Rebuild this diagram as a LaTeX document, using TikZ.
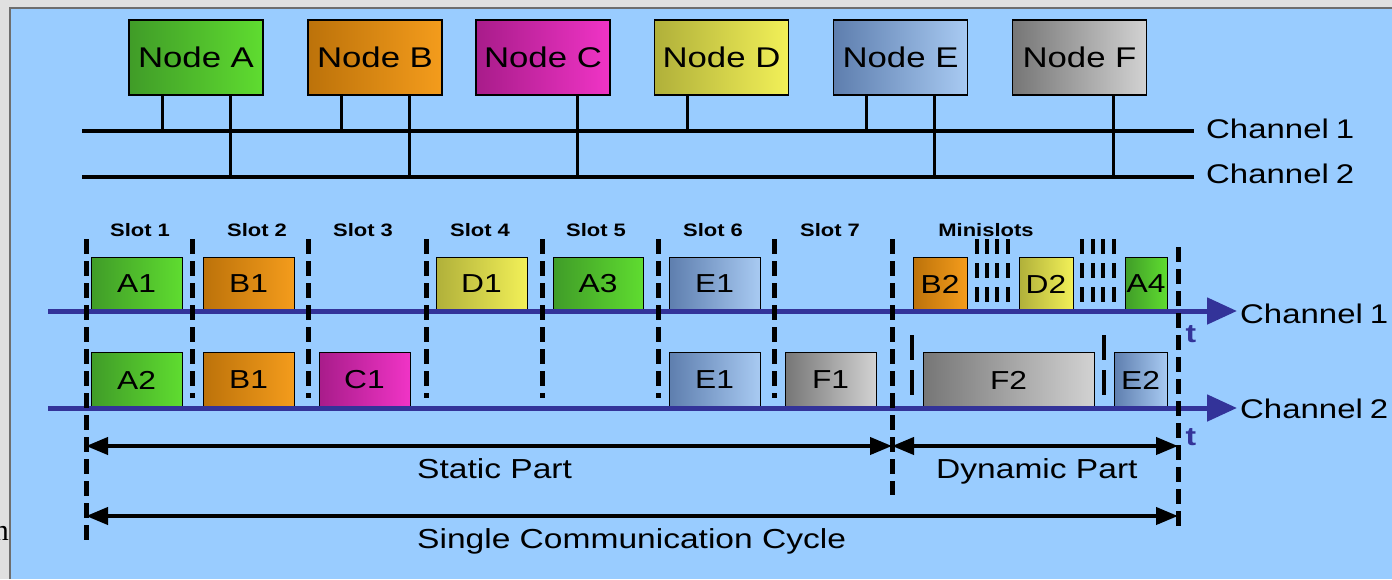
\documentclass[tikz,border=0pt]{standalone}
\usepackage{fontspec}
\newfontfamily\lab[FakeStretch=1.22]{Liberation Sans}
\newfontfamily\serifn{Liberation Serif}
\usetikzlibrary{arrows.meta}

\definecolor{bg}{HTML}{99CCFF}
\definecolor{outer}{HTML}{E0E0E0}
\definecolor{outerline}{HTML}{6E6E6E}
\definecolor{axisblue}{HTML}{333399}
\definecolor{greenD}{HTML}{409C28}
\definecolor{greenL}{HTML}{5FDC30}
\definecolor{orangeD}{HTML}{BC720A}
\definecolor{orangeL}{HTML}{F49C1C}
\definecolor{magD}{HTML}{A81C8A}
\definecolor{magL}{HTML}{F034C6}
\definecolor{yelD}{HTML}{B0B03A}
\definecolor{yelL}{HTML}{F2F058}
\definecolor{bluD}{HTML}{5E7EAE}
\definecolor{bluL}{HTML}{A8CAF2}
\definecolor{gryD}{HTML}{767676}
\definecolor{gryL}{HTML}{D2D2D2}

\tikzset{
  topnode/.style={draw=black, line width=1.2pt, minimum width=134pt, minimum height=75pt,
    inner sep=0pt, font=\lab\fontsize{28.5}{34}\selectfont},
  frame/.style={draw=black, line width=1pt, inner sep=0pt, font=\lab\fontsize{26}{31}\selectfont},
  row1/.style={frame, minimum height=54pt},
  row2/.style={frame, minimum height=56pt},
  greenbox/.style={left color=greenD, right color=greenL},
  orangebox/.style={left color=orangeD, right color=orangeL},
  magbox/.style={left color=magD, right color=magL},
  yelbox/.style={left color=yelD, right color=yelL},
  blubox/.style={left color=bluD, right color=bluL},
  grybox/.style={left color=gryD, right color=gryL},
  bus/.style={line width=4pt, black},
  stub/.style={line width=3pt, black},
  chaxis/.style={line width=5pt, draw=axisblue, -{Triangle[length=30pt,width=26pt]}},
  slotline/.style={line width=5pt, dash pattern=on 15pt off 7pt},
  minline/.style={line width=4pt, dash pattern=on 14.5pt off 9.5pt},
  dynline/.style={line width=4pt, dash pattern=on 25pt off 10pt},
  span/.style={line width=4pt, {Triangle[length=22pt,width=17pt]}-{Triangle[length=22pt,width=17pt]}},
  chlab/.style={font=\lab\fontsize{27}{32}\selectfont, anchor=base west, inner sep=0pt},
  slotlab/.style={font=\lab\bfseries\fontsize{18}{22}\selectfont, anchor=base, inner sep=0pt},
  partlab/.style={font=\lab\fontsize{27.5}{33}\selectfont, anchor=base west, inner sep=0pt},
  tlab/.style={font=\lab\bfseries\fontsize{26}{30}\selectfont, text=axisblue, anchor=base, inner sep=0pt}
}

\begin{document}
\begin{tikzpicture}[x=1pt,y=-1pt]
\useasboundingbox (0,0) rectangle (1392,579);
% window frame and canvas
\fill[outer] (0,0) rectangle (1392,579);
\fill[bg] (10,8) rectangle (1392,579);
\draw[outerline, line width=1.5pt] (10,579) -- (10,8) -- (1392,8);
\node[font=\serifn\fontsize{30}{36}\selectfont, anchor=base east, inner sep=0pt] (cut) at (9,540) {n};

% ---------- bus topology ----------
\node[topnode, greenbox]  (nA) at (196,57.5)   {Node A};
\node[topnode, orangebox] (nB) at (375,57.5)   {Node B};
\node[topnode, magbox]    (nC) at (543,57.5)   {Node C};
\node[topnode, yelbox]    (nD) at (721.5,57.5) {Node D};
\node[topnode, blubox]    (nE) at (900.5,57.5) {Node E};
\node[topnode, grybox]    (nF) at (1079.5,57.5){Node F};

\coordinate (bus1w) at (82,131);
\coordinate (bus1e) at (1194,131);
\coordinate (bus2w) at (82,177);
\coordinate (bus2e) at (1194,177);
\draw[bus] (bus1w) -- (bus1e);
\draw[bus] (bus2w) -- (bus2e);

% stubs to channel 1
\foreach \n in {nA,nB,nD,nE}
  \draw[stub] ([xshift=-34pt]\n.south) -- ([xshift=-34pt]\n.south |- bus1w);
% stubs to channel 2
\foreach \n in {nA,nB,nC,nE,nF}
  \draw[stub] ([xshift=34pt]\n.south) -- ([xshift=34pt]\n.south |- bus2w);

\node[chlab] (busl1) at (1206,138) {Channel\hspace{7pt}1};
\node[chlab] (busl2) at (1206,183) {Channel\hspace{7pt}2};

% ---------- frames, channel 1 ----------
\node[row1, greenbox,  minimum width=91pt] (a1) at (136.5,284) {A1};
\node[row1, orangebox, minimum width=91pt] (b1) at (248.5,284) {B1};
\node[row1, yelbox,    minimum width=91pt] (d1) at (481.5,284) {D1};
\node[row1, greenbox,  minimum width=90pt] (a3) at (598,284)   {A3};
\node[row1, blubox,    minimum width=91pt] (e1) at (714.5,284) {E1};
\node[row1, orangebox, minimum width=54pt] (b2) at (940,284)   {B2};
\node[row1, yelbox,    minimum width=54pt] (d2) at (1046,284)  {D2};
\node[row1, greenbox,  minimum width=42pt] (a4) at (1146,284)  {A4};

% ---------- frames, channel 2 ----------
\node[row2, greenbox,  minimum width=91pt]  (a2)  at (136.5,380)  {A2};
\node[row2, orangebox, minimum width=91pt]  (b1b) at (248.5,380)  {B1};
\node[row2, magbox,    minimum width=91pt]  (c1)  at (364.5,380)  {C1};
\node[row2, blubox,    minimum width=91pt]  (e1b) at (714.5,380)  {E1};
\node[row2, grybox,    minimum width=91pt]  (f1)  at (830.5,380)  {F1};
\node[row2, grybox,    minimum width=171pt] (f2)  at (1008.5,380) {F2};
\node[row2, blubox,    minimum width=53pt]  (e2)  at (1140.5,380) {E2};

% ---------- time axes ----------
\coordinate (ax1s) at (48,311);
\coordinate (ax1e) at (1237,311);
\coordinate (ax2s) at (48,408);
\coordinate (ax2e) at (1237,408);
\draw[chaxis] (ax1s) -- (ax1e);
\draw[chaxis] (ax2s) -- (ax2e);
\node[chlab] (axl1) at (1240,323) {Channel\hspace{7pt}1};
\node[chlab] (axl2) at (1240,418) {Channel\hspace{7pt}2};
\node[tlab] (t1) at (1191,342) {t};
\node[tlab] (t2) at (1191,445) {t};

% ---------- slot boundaries ----------
\coordinate (s0t) at (86,239);   \coordinate (s0b) at (86,540);
\draw[slotline] (s0t) -- (s0b);
\foreach \x [count=\i] in {192,308,426,542,658,774}{
  \coordinate (s\i t) at (\x,239);
  \coordinate (s\i b) at (\x,398);
  \draw[slotline] (s\i t) -- (s\i b);
}
\coordinate (s7t) at (892,239);  \coordinate (s7b) at (892,495);
\draw[slotline] (s7t) -- (s7b);
\coordinate (s8t) at (1178,247); \coordinate (s8b) at (1178,527);
\draw[slotline] (s8t) -- (s8b);

% minislot ticks
\foreach \x in {976.7,986.7,997.3,1008.3,1082.3,1092.7,1103.3,1114.3}
  \draw[minline] (\x,239) -- (\x,302);
% dynamic segment limits on channel 2
\foreach \x in {912,1104.3}
  \draw[dynline] (\x,335) -- (\x,397);

% slot labels
\node[slotlab] (sl1) at (140,236) {Slot 1};
\node[slotlab] (sl2) at (257,236) {Slot 2};
\node[slotlab] (sl3) at (363,236) {Slot 3};
\node[slotlab] (sl4) at (480,236) {Slot 4};
\node[slotlab] (sl5) at (596,236) {Slot 5};
\node[slotlab] (sl6) at (713,236) {Slot 6};
\node[slotlab] (sl7) at (830,236) {Slot 7};
\node[slotlab] (msl) at (986,236) {Minislots};

% ---------- segment spans ----------
\coordinate (stA) at (86,446);
\coordinate (stB) at (892,446);
\coordinate (dyB) at (1178,446);
\coordinate (cyA) at (86,516);
\coordinate (cyB) at (1178,516);
\draw[span] (stA) -- (stB);
\draw[span] (stB) -- (dyB);
\draw[span] (cyA) -- (cyB);
\node[partlab] (pst) at (417,478) {Static Part};
\node[partlab] (pdy) at (936,478) {Dynamic Part};
\node[partlab] (pcy) at (417,548) {Single Communication Cycle};
\end{tikzpicture}
\end{document}
